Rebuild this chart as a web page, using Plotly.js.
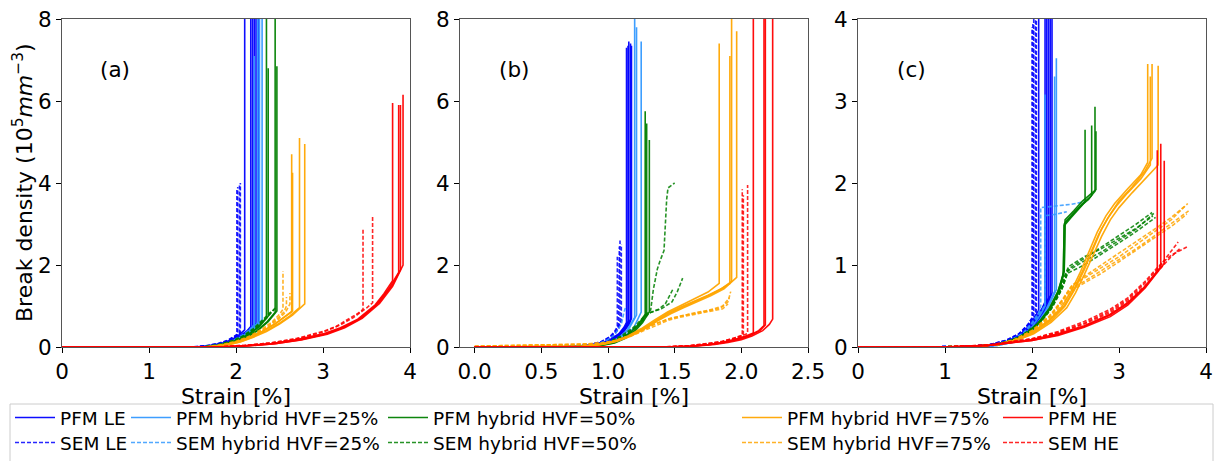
<!DOCTYPE html>
<html><head><meta charset="utf-8">
<script src="https://cdn.plot.ly/plotly-3.0.1.min.js"></script>
<style>html,body{margin:0;padding:0;background:#fff}#chart{width:1224px;height:461px}</style>
</head><body><div id="chart"></div>
<script>
// ---------------- DATA: curves as [strain %, break density 1e5/mm^3] ----------------
// Panel (a)
const a_pfm_le = [
 [[0,0],[1.5,0],[1.65,0.02],[1.8,0.07],[1.9,0.13],[2.0,0.24],[2.05,0.32],[2.1,0.42],[2.1,8.3]],
 [[0,0],[1.55,0],[1.7,0.03],[1.85,0.09],[1.95,0.17],[2.05,0.28],[2.12,0.38],[2.17,0.5],[2.17,8.3]],
 [[0,0],[1.55,0],[1.7,0.02],[1.85,0.08],[1.95,0.15],[2.05,0.26],[2.14,0.4],[2.19,0.52],[2.19,8.3]],
 [[0,0],[1.6,0],[1.75,0.03],[1.9,0.1],[2.0,0.19],[2.1,0.32],[2.17,0.45],[2.21,0.55],[2.21,8.3]],
 [[0,0],[1.6,0],[1.75,0.03],[1.9,0.1],[2.0,0.18],[2.1,0.3],[2.18,0.45],[2.23,0.58],[2.23,8.3]],
 [[0,0],[1.6,0],[1.78,0.03],[1.92,0.1],[2.02,0.19],[2.12,0.32],[2.2,0.47],[2.26,0.62],[2.26,8.3]]
];
const a_sem_le = [
 [[0,0],[1.5,0],[1.65,0.03],[1.8,0.09],[1.9,0.16],[1.97,0.24],[2.01,0.3],[2.01,3.85]],
 [[0,0],[1.5,0],[1.66,0.03],[1.8,0.08],[1.9,0.15],[1.98,0.24],[2.02,0.32],[2.02,3.9]],
 [[0,0],[1.55,0],[1.68,0.03],[1.82,0.09],[1.92,0.17],[2.0,0.27],[2.04,0.34],[2.04,3.95]],
 [[0,0],[1.55,0],[1.7,0.03],[1.84,0.09],[1.94,0.17],[2.01,0.27],[2.05,0.35],[2.05,4.0]]
];
const a_pfm_25 = [
 [[0,0],[1.6,0],[1.78,0.04],[1.92,0.11],[2.02,0.2],[2.12,0.33],[2.21,0.55],[2.21,7.1]],
 [[0,0],[1.6,0],[1.78,0.03],[1.92,0.1],[2.05,0.22],[2.15,0.36],[2.25,0.6],[2.25,8.3]],
 [[0,0],[1.62,0],[1.8,0.03],[1.94,0.1],[2.06,0.22],[2.17,0.38],[2.27,0.62],[2.27,8.3]],
 [[0,0],[1.65,0],[1.82,0.03],[1.96,0.1],[2.08,0.22],[2.2,0.4],[2.3,0.66],[2.3,8.3]]
];
const a_sem_25 = [
 [[0,0],[1.6,0],[1.78,0.04],[1.92,0.12],[2.02,0.22],[2.12,0.36],[2.2,0.5]]
];
const a_pfm_50 = [
 [[0,0],[1.65,0],[1.8,0.04],[1.95,0.12],[2.05,0.2],[2.15,0.32],[2.25,0.48],[2.35,0.72],[2.35,8.3]],
 [[0,0],[1.65,0],[1.82,0.04],[1.96,0.12],[2.06,0.2],[2.16,0.32],[2.27,0.5],[2.37,0.75],[2.37,6.8]],
 [[0,0],[1.68,0],[1.85,0.04],[2.0,0.13],[2.12,0.24],[2.24,0.4],[2.35,0.6],[2.45,0.85],[2.45,8.3]],
 [[0,0],[1.7,0],[1.86,0.04],[2.01,0.13],[2.13,0.24],[2.25,0.4],[2.37,0.62],[2.47,0.88],[2.47,6.85]]
];
const a_sem_50 = [
 [[0,0],[1.6,0],[1.8,0.06],[1.95,0.15],[2.08,0.27],[2.2,0.45],[2.3,0.65],[2.4,0.86]],
 [[0,0],[1.62,0],[1.82,0.06],[1.98,0.16],[2.1,0.28],[2.22,0.46],[2.33,0.68],[2.44,0.92]],
 [[0,0],[1.65,0],[1.85,0.07],[2.0,0.17],[2.12,0.3],[2.24,0.48],[2.35,0.7],[2.45,0.95]]
];
const a_pfm_75 = [
 [[0,0],[1.65,0],[1.85,0.05],[2.0,0.12],[2.15,0.23],[2.3,0.38],[2.45,0.57],[2.55,0.72],[2.64,0.86],[2.64,4.7]],
 [[0,0],[1.65,0],[1.85,0.05],[2.0,0.12],[2.15,0.23],[2.3,0.38],[2.45,0.56],[2.56,0.73],[2.65,0.88],[2.65,4.25]],
 [[0,0],[1.7,0],[1.9,0.05],[2.05,0.13],[2.2,0.25],[2.35,0.4],[2.5,0.58],[2.62,0.76],[2.73,0.96],[2.73,5.1]],
 [[0,0],[1.7,0],[1.9,0.05],[2.05,0.12],[2.2,0.24],[2.35,0.38],[2.5,0.56],[2.65,0.78],[2.79,1.05],[2.79,4.95]]
];
const a_sem_75 = [
 [[0,0],[1.65,0],[1.85,0.06],[2.0,0.14],[2.15,0.26],[2.3,0.44],[2.42,0.62],[2.5,0.8],[2.54,0.92],[2.54,1.85]],
 [[0,0],[1.7,0],[1.9,0.06],[2.05,0.15],[2.2,0.29],[2.35,0.48],[2.47,0.68],[2.55,0.85],[2.58,1.0],[2.58,1.22]],
 [[0,0],[1.7,0],[1.9,0.06],[2.05,0.15],[2.2,0.28],[2.35,0.46],[2.48,0.66],[2.57,0.85],[2.62,1.05],[2.62,1.32]]
];
const a_pfm_he = [
 [[0,0],[1.8,0],[2.1,0.03],[2.4,0.08],[2.7,0.18],[3.0,0.32],[3.2,0.47],[3.4,0.68],[3.6,1.03],[3.7,1.3],[3.8,1.62],[3.8,5.95]],
 [[0,0],[1.8,0],[2.1,0.03],[2.4,0.08],[2.7,0.17],[3.0,0.3],[3.2,0.45],[3.4,0.66],[3.6,1.0],[3.75,1.4],[3.87,1.82],[3.87,5.9]],
 [[0,0],[1.85,0],[2.15,0.03],[2.45,0.08],[2.75,0.18],[3.05,0.33],[3.25,0.49],[3.45,0.72],[3.65,1.1],[3.8,1.52],[3.89,1.88],[3.89,5.9]],
 [[0,0],[1.85,0],[2.15,0.03],[2.45,0.08],[2.75,0.17],[3.05,0.31],[3.25,0.47],[3.45,0.7],[3.65,1.06],[3.8,1.48],[3.92,2.0],[3.92,6.15]]
];
const a_sem_he = [
 [[0,0],[1.8,0],[2.1,0.04],[2.4,0.1],[2.7,0.21],[3.0,0.38],[3.15,0.5],[3.3,0.68],[3.4,0.82],[3.46,0.92],[3.46,2.9]],
 [[0,0],[1.8,0],[2.1,0.04],[2.4,0.1],[2.7,0.2],[3.0,0.36],[3.2,0.54],[3.35,0.72],[3.5,0.95],[3.57,1.08],[3.57,3.2]]
];
// Panel (b)
const b_pfm_le = [
 [[0,0],[0.7,0.01],[0.85,0.04],[0.95,0.1],[1.02,0.19],[1.08,0.32],[1.12,0.48],[1.139,0.6],[1.139,7.3]],
 [[0,0],[0.7,0.01],[0.86,0.04],[0.96,0.1],[1.03,0.19],[1.09,0.33],[1.13,0.5],[1.15,0.62],[1.15,7.35]],
 [[0,0],[0.72,0.01],[0.87,0.04],[0.97,0.1],[1.04,0.2],[1.1,0.35],[1.14,0.52],[1.156,0.64],[1.156,7.45]],
 [[0,0],[0.72,0.01],[0.88,0.04],[0.98,0.1],[1.05,0.2],[1.11,0.36],[1.15,0.54],[1.169,0.68],[1.169,7.4]],
 [[0,0],[0.74,0.01],[0.89,0.04],[0.99,0.11],[1.06,0.21],[1.12,0.38],[1.16,0.56],[1.176,0.7],[1.176,7.35]]
];
const b_sem_le = [
 [[0,0],[0.7,0.01],[0.85,0.05],[0.95,0.13],[1.01,0.24],[1.05,0.38],[1.07,0.5],[1.07,2.2]],
 [[0,0],[0.7,0.01],[0.85,0.05],[0.95,0.13],[1.02,0.25],[1.06,0.4],[1.08,0.55],[1.08,2.35],[1.085,2.45]],
 [[0,0],[0.72,0.01],[0.87,0.05],[0.97,0.14],[1.03,0.26],[1.07,0.42],[1.09,0.6],[1.09,2.6]],
 [[0,0],[0.72,0.01],[0.87,0.05],[0.97,0.13],[1.04,0.27],[1.08,0.45],[1.1,0.65],[1.1,2.5]]
];
const b_pfm_25 = [
 [[0,0],[0.75,0.01],[0.9,0.04],[1.0,0.1],[1.08,0.22],[1.14,0.4],[1.2,0.72],[1.2,8.3]],
 [[0,0],[0.76,0.01],[0.91,0.04],[1.01,0.1],[1.09,0.22],[1.15,0.4],[1.214,0.78],[1.214,7.8]],
 [[0,0],[0.78,0.01],[0.93,0.04],[1.04,0.11],[1.12,0.24],[1.19,0.45],[1.249,0.85],[1.249,7.45]]
];
const b_sem_25 = [
 [[0,0],[0.72,0.01],[0.88,0.05],[0.98,0.14],[1.05,0.3],[1.1,0.55],[1.12,0.85],[1.13,0.95]]
];
const b_pfm_50 = [
 [[0,0],[0.78,0.01],[0.92,0.04],[1.02,0.1],[1.1,0.2],[1.17,0.36],[1.23,0.56],[1.279,0.8],[1.279,5.75]],
 [[0,0],[0.8,0.01],[0.94,0.04],[1.04,0.1],[1.12,0.21],[1.19,0.38],[1.25,0.6],[1.29,0.82],[1.29,5.45]],
 [[0,0],[0.8,0.01],[0.95,0.04],[1.05,0.1],[1.13,0.21],[1.2,0.38],[1.26,0.6],[1.31,0.86],[1.31,5.05]]
];
const b_sem_50 = [
 [[0,0],[0.75,0.01],[0.9,0.05],[1.0,0.12],[1.1,0.27],[1.2,0.5],[1.28,0.78],[1.32,0.9],[1.34,1.4],[1.37,1.9],[1.39,2.1],[1.42,2.35],[1.44,3.6],[1.45,3.88],[1.5,4.0]],
 [[0,0],[0.78,0.01],[0.92,0.05],[1.02,0.12],[1.12,0.28],[1.22,0.52],[1.3,0.82],[1.38,0.92],[1.43,1.05],[1.46,1.25],[1.49,1.43]],
 [[0,0],[0.78,0.01],[0.92,0.05],[1.02,0.12],[1.12,0.27],[1.22,0.5],[1.31,0.83],[1.4,0.93],[1.48,1.1],[1.52,1.35],[1.56,1.68]]
];
const b_pfm_75 = [
 [[0,0],[0.8,0.02],[0.95,0.07],[1.05,0.14],[1.15,0.27],[1.25,0.45],[1.35,0.66],[1.45,0.86],[1.55,1.02],[1.65,1.18],[1.75,1.34],[1.834,1.55],[1.834,7.4]],
 [[0,0],[0.8,0.02],[0.95,0.07],[1.05,0.14],[1.15,0.26],[1.25,0.43],[1.35,0.63],[1.45,0.83],[1.55,0.98],[1.65,1.12],[1.75,1.26],[1.85,1.42],[1.914,1.55],[1.914,7.1]],
 [[0,0],[0.82,0.02],[0.96,0.07],[1.06,0.14],[1.16,0.26],[1.26,0.43],[1.36,0.63],[1.46,0.82],[1.56,0.97],[1.66,1.11],[1.76,1.26],[1.86,1.44],[1.927,1.6],[1.927,8.3]],
 [[0,0],[0.82,0.02],[0.97,0.07],[1.07,0.14],[1.17,0.26],[1.27,0.43],[1.37,0.63],[1.47,0.81],[1.57,0.96],[1.67,1.1],[1.77,1.25],[1.87,1.42],[1.965,1.7],[1.965,7.7]]
];
const b_sem_75 = [
 [[0,0.02],[0.4,0.04],[0.8,0.07],[0.95,0.1],[1.05,0.16],[1.15,0.26],[1.25,0.4],[1.35,0.56],[1.45,0.68],[1.55,0.76],[1.65,0.82],[1.75,0.88],[1.85,0.96],[1.9,1.1],[1.92,1.35]],
 [[0,0.02],[0.4,0.04],[0.8,0.07],[0.96,0.1],[1.06,0.16],[1.16,0.26],[1.26,0.41],[1.36,0.57],[1.46,0.69],[1.56,0.77],[1.66,0.84],[1.76,0.9],[1.86,1.0],[1.91,1.2]],
 [[0,0.01],[0.4,0.03],[0.8,0.06],[0.96,0.09],[1.06,0.15],[1.16,0.25],[1.26,0.39],[1.36,0.54],[1.46,0.66],[1.56,0.74],[1.66,0.8],[1.76,0.86],[1.86,0.93],[1.9,1.05]]
];
const b_pfm_he = [
 [[0,0],[1.4,0],[1.6,0.02],[1.75,0.06],[1.85,0.11],[1.95,0.18],[2.03,0.26],[2.09,0.34],[2.09,8.3]],
 [[0,0],[1.42,0],[1.62,0.02],[1.77,0.06],[1.87,0.11],[1.97,0.19],[2.06,0.28],[2.13,0.4],[2.17,0.52],[2.17,8.3]],
 [[0,0],[1.42,0],[1.62,0.02],[1.77,0.06],[1.87,0.11],[1.97,0.18],[2.06,0.27],[2.14,0.4],[2.18,0.54],[2.18,8.3]],
 [[0,0],[1.45,0],[1.65,0.02],[1.8,0.06],[1.9,0.11],[2.0,0.18],[2.08,0.27],[2.16,0.4],[2.21,0.55],[2.235,0.68],[2.235,8.3]]
];
const b_sem_he = [
 [[0,0],[1.4,0],[1.6,0.03],[1.75,0.08],[1.85,0.13],[1.93,0.2],[2.007,0.28],[2.007,3.85]],
 [[0,0],[1.4,0],[1.6,0.03],[1.75,0.08],[1.86,0.14],[1.94,0.21],[2.015,0.3],[2.015,3.7]],
 [[0,0],[1.42,0],[1.62,0.03],[1.77,0.08],[1.88,0.14],[1.97,0.22],[2.047,0.33],[2.047,3.95]]
];
// Panel (c)
const c_pfm_le = [
 [[0,0],[1.2,0.005],[1.5,0.02],[1.7,0.06],[1.85,0.14],[1.95,0.24],[2.03,0.36],[2.077,0.45],[2.077,4.2]],
 [[0,0],[1.2,0.005],[1.5,0.02],[1.7,0.06],[1.85,0.13],[1.95,0.22],[2.05,0.36],[2.12,0.48],[2.15,0.55],[2.15,4.2]],
 [[0,0],[1.2,0.005],[1.5,0.02],[1.72,0.06],[1.87,0.13],[1.97,0.23],[2.07,0.37],[2.14,0.5],[2.17,0.57],[2.17,4.2]],
 [[0,0],[1.25,0.005],[1.55,0.02],[1.75,0.06],[1.9,0.14],[2.0,0.24],[2.1,0.39],[2.16,0.52],[2.19,0.6],[2.19,4.2]],
 [[0,0],[1.25,0.005],[1.55,0.02],[1.75,0.06],[1.9,0.13],[2.0,0.23],[2.1,0.38],[2.17,0.52],[2.21,0.63],[2.21,4.2]],
 [[0,0],[1.25,0.005],[1.55,0.02],[1.77,0.06],[1.92,0.14],[2.02,0.24],[2.12,0.39],[2.19,0.54],[2.23,0.66],[2.23,4.2]]
];
const c_sem_le = [
 [[0,0],[1.2,0.005],[1.5,0.025],[1.7,0.08],[1.85,0.16],[1.95,0.27],[2.0,0.35],[2.0,3.9]],
 [[0,0],[1.2,0.005],[1.5,0.025],[1.7,0.08],[1.85,0.16],[1.95,0.27],[2.01,0.37],[2.01,3.95]],
 [[0,0],[1.2,0.005],[1.5,0.025],[1.72,0.08],[1.87,0.17],[1.97,0.28],[2.02,0.37],[2.02,4.2]],
 [[0,0],[1.22,0.005],[1.52,0.025],[1.72,0.08],[1.87,0.16],[1.97,0.27],[2.04,0.38],[2.04,4.2]],
 [[0,0],[1.22,0.005],[1.52,0.025],[1.74,0.08],[1.89,0.17],[1.99,0.28],[2.05,0.39],[2.05,4.2]]
];
const c_pfm_25 = [
 [[0,0],[1.25,0.005],[1.55,0.02],[1.75,0.06],[1.9,0.14],[2.0,0.24],[2.1,0.4],[2.15,0.5],[2.15,3.08]],
 [[0,0],[1.3,0.005],[1.6,0.02],[1.8,0.06],[1.95,0.15],[2.05,0.27],[2.15,0.43],[2.22,0.58],[2.26,0.68],[2.26,3.3]],
 [[0,0],[1.3,0.005],[1.6,0.02],[1.8,0.06],[1.96,0.15],[2.07,0.27],[2.17,0.44],[2.24,0.6],[2.28,0.7],[2.28,3.52]]
];
const c_sem_25 = [
 [[0,0],[1.25,0.005],[1.55,0.025],[1.75,0.08],[1.9,0.17],[2.0,0.3],[2.08,0.42],[2.1,0.5],[2.1,1.7],[2.3,1.72],[2.45,1.74],[2.6,1.77]],
 [[0,0],[1.25,0.005],[1.55,0.025],[1.76,0.08],[1.92,0.18],[2.03,0.32],[2.12,0.46],[2.15,0.52],[2.15,1.6],[2.28,1.62],[2.4,1.65]]
];
const c_pfm_50 = [
 [[0,0],[1.3,0.005],[1.6,0.03],[1.8,0.09],[1.95,0.18],[2.08,0.3],[2.2,0.47],[2.3,0.68],[2.36,0.88],[2.37,1.48],[2.45,1.58],[2.55,1.7],[2.61,1.77],[2.61,2.65]],
 [[0,0],[1.3,0.005],[1.6,0.03],[1.8,0.09],[1.95,0.18],[2.08,0.3],[2.2,0.47],[2.3,0.68],[2.36,0.9],[2.37,1.5],[2.47,1.62],[2.57,1.73],[2.65,1.8],[2.686,1.85],[2.686,2.7]],
 [[0,0],[1.3,0.005],[1.62,0.03],[1.82,0.09],[1.97,0.18],[2.1,0.31],[2.22,0.49],[2.32,0.72],[2.37,0.92],[2.38,1.52],[2.48,1.63],[2.58,1.75],[2.67,1.83],[2.724,1.9],[2.724,2.93]],
 [[0,0],[1.3,0.005],[1.62,0.03],[1.82,0.09],[1.97,0.18],[2.1,0.31],[2.22,0.48],[2.32,0.7],[2.37,0.95],[2.38,1.55],[2.48,1.66],[2.58,1.78],[2.67,1.86],[2.735,1.92],[2.735,2.63]]
];
const c_sem_50 = [
 [[0,0],[1.3,0.005],[1.6,0.03],[1.85,0.12],[2.05,0.27],[2.2,0.45],[2.32,0.68],[2.38,0.88],[2.42,0.98],[2.6,1.1],[2.8,1.2],[3.0,1.32],[3.2,1.45],[3.39,1.6]],
 [[0,0],[1.3,0.005],[1.6,0.03],[1.86,0.12],[2.06,0.27],[2.21,0.46],[2.33,0.7],[2.4,0.92],[2.6,1.05],[2.8,1.16],[3.0,1.3],[3.2,1.44],[3.4,1.63]],
 [[0,0],[1.32,0.005],[1.62,0.03],[1.87,0.12],[2.07,0.27],[2.22,0.46],[2.34,0.7],[2.41,0.9],[2.6,1.0],[2.8,1.13],[3.0,1.27],[3.2,1.41],[3.42,1.58]],
 [[0,0],[1.32,0.005],[1.62,0.03],[1.88,0.13],[2.08,0.28],[2.23,0.48],[2.35,0.72],[2.42,0.95],[2.6,1.08],[2.8,1.22],[3.0,1.36],[3.2,1.5],[3.38,1.64]]
];
const c_pfm_75 = [
 [[0,0],[1.3,0.005],[1.6,0.03],[1.8,0.08],[2.0,0.18],[2.2,0.33],[2.35,0.5],[2.45,0.68],[2.55,0.9],[2.65,1.15],[2.75,1.4],[2.85,1.6],[2.95,1.75],[3.1,1.93],[3.25,2.1],[3.33,2.25],[3.33,3.45]],
 [[0,0],[1.3,0.005],[1.6,0.03],[1.8,0.08],[2.0,0.17],[2.2,0.32],[2.37,0.5],[2.47,0.68],[2.57,0.9],[2.67,1.14],[2.77,1.38],[2.87,1.57],[2.97,1.72],[3.1,1.88],[3.25,2.05],[3.36,2.22],[3.36,3.3]],
 [[0,0],[1.32,0.005],[1.62,0.03],[1.82,0.08],[2.02,0.17],[2.22,0.32],[2.38,0.5],[2.49,0.7],[2.6,0.94],[2.7,1.2],[2.8,1.44],[2.9,1.62],[3.0,1.78],[3.15,1.95],[3.3,2.15],[3.38,2.3],[3.38,3.45]],
 [[0,0],[1.32,0.005],[1.62,0.03],[1.82,0.08],[2.02,0.16],[2.22,0.3],[2.4,0.48],[2.5,0.66],[2.6,0.88],[2.7,1.12],[2.8,1.35],[2.9,1.55],[3.0,1.7],[3.15,1.88],[3.3,2.05],[3.45,2.22],[3.45,3.43]]
];
const c_sem_75 = [
 [[0,0],[1.3,0.005],[1.6,0.03],[1.8,0.09],[2.0,0.2],[2.2,0.38],[2.35,0.58],[2.45,0.74],[2.6,0.84],[2.8,0.97],[3.0,1.1],[3.2,1.25],[3.4,1.4],[3.6,1.55],[3.79,1.75]],
 [[0,0],[1.3,0.005],[1.6,0.03],[1.8,0.09],[2.0,0.2],[2.2,0.37],[2.36,0.58],[2.46,0.72],[2.6,0.8],[2.8,0.93],[3.0,1.06],[3.2,1.2],[3.4,1.35],[3.6,1.5],[3.8,1.66]],
 [[0,0],[1.32,0.005],[1.62,0.03],[1.82,0.09],[2.02,0.2],[2.22,0.38],[2.37,0.6],[2.47,0.76],[2.6,0.86],[2.8,1.0],[3.0,1.14],[3.2,1.28],[3.4,1.43],[3.6,1.58],[3.76,1.72]],
 [[0,0],[1.32,0.005],[1.62,0.03],[1.82,0.09],[2.02,0.19],[2.22,0.36],[2.37,0.56],[2.47,0.7],[2.6,0.78],[2.8,0.9],[3.0,1.04],[3.2,1.18],[3.4,1.32],[3.6,1.47],[3.78,1.62]]
];
const c_pfm_he = [
 [[0,0],[1.0,0],[1.5,0.02],[2.0,0.09],[2.3,0.16],[2.6,0.26],[2.9,0.4],[3.1,0.54],[3.3,0.73],[3.44,0.92],[3.44,2.4]],
 [[0,0],[1.0,0],[1.5,0.02],[2.0,0.08],[2.3,0.15],[2.6,0.25],[2.9,0.39],[3.1,0.53],[3.3,0.74],[3.48,0.98],[3.48,2.48]],
 [[0,0],[1.0,0],[1.5,0.02],[2.0,0.08],[2.3,0.14],[2.6,0.24],[2.9,0.37],[3.1,0.51],[3.3,0.72],[3.52,1.02],[3.52,2.27]]
];
const c_sem_he = [
 [[0,0],[1.0,0],[1.5,0.025],[2.0,0.1],[2.3,0.18],[2.6,0.29],[2.9,0.44],[3.1,0.58],[3.3,0.78],[3.45,0.96],[3.55,1.1],[3.68,1.28]],
 [[0,0],[1.0,0],[1.5,0.025],[2.0,0.1],[2.3,0.19],[2.6,0.31],[2.9,0.46],[3.1,0.6],[3.3,0.8],[3.45,0.98],[3.6,1.12],[3.78,1.22]],
 [[0,0],[1.0,0],[1.5,0.02],[2.0,0.09],[2.3,0.17],[2.6,0.28],[2.9,0.42],[3.1,0.56],[3.3,0.75],[3.45,0.93],[3.58,1.08],[3.7,1.2]]
];

const seriesNames = ["PFM LE","SEM LE","PFM hybrid HVF=25%","SEM hybrid HVF=25%","PFM hybrid HVF=50%","SEM hybrid HVF=50%","PFM hybrid HVF=75%","SEM hybrid HVF=75%","PFM HE","SEM HE"];
const seriesColors = ["#0000ff","#0000ff","#3399ff","#3399ff","#008000","#008000","#ffa500","#ffa500","#ff0000","#ff0000"];
const panelLabels = ["(a)","(b)","(c)"];
const yTitle = "Break density (10<sup>5</sup><i>mm</i><sup>−3</sup>)";
const xTitle = "Strain [%]";

// ---------------- BUILD ----------------
const panels = [
  [a_pfm_le,a_sem_le,a_pfm_25,a_sem_25,a_pfm_50,a_sem_50,a_pfm_75,a_sem_75,a_pfm_he,a_sem_he],
  [b_pfm_le,b_sem_le,b_pfm_25,b_sem_25,b_pfm_50,b_sem_50,b_pfm_75,b_sem_75,b_pfm_he,b_sem_he],
  [c_pfm_le,c_sem_le,c_pfm_25,c_sem_25,c_pfm_50,c_sem_50,c_pfm_75,c_sem_75,c_pfm_he,c_sem_he]
];
const legendIds = seriesNames.map((n, s) => s === 0 ? "legend" : "legend" + (s + 1));
const traces = [];
panels.forEach((series, p) => {
  const ax = p === 0 ? "" : String(p + 1);
  series.forEach((curves, s) => {
    const sem = s % 2 === 1;
    curves.forEach((c, i) => {
      traces.push({
        type: "scatter", mode: "lines",
        x: c.map(q => q[0]), y: c.map(q => q[1]),
        xaxis: "x" + ax, yaxis: "y" + ax,
        name: seriesNames[s], legend: legendIds[s],
        showlegend: p === 0 && i === 0,
        opacity: sem ? 0.85 : 0.95,
        line: {color: seriesColors[s], width: 1.6, dash: sem ? "4px,2px" : "solid"},
        hoverinfo: "skip"
      });
    });
  });
});

const W = 1224, H = 461;
const px = v => v / W, py = v => 1 - v / H;
const font = "DejaVu Sans, Arial, sans-serif";
function xa(dom, range, tickvals, ticktext, anchor) {
  return {domain: dom, range: range, tickvals: tickvals, ticktext: ticktext, anchor: anchor,
    showline: true, mirror: true, linecolor: "#555", linewidth: 1,
    ticks: "outside", ticklen: 5, tickcolor: "#000", showgrid: false, zeroline: false,
    tickfont: {size: 21.5, color: "#000"}, automargin: false,
    title: {text: xTitle, font: {size: 22, color: "#000"}, standoff: 0}};
}
function ya(dom, range, tickvals, anchor) {
  return {domain: dom, range: range, tickvals: tickvals, anchor: anchor,
    showline: true, mirror: true, linecolor: "#555", linewidth: 1,
    ticks: "outside", ticklen: 5, tickcolor: "#000", showgrid: false, zeroline: false,
    tickfont: {size: 21.5, color: "#000"}, automargin: false};
}
const yd = [py(347), py(19)];
// legend columns: left px of each column, rows: center px
const legCols = [10, 126, 383, 737, 998];
const legRows = [418, 443];
const layout = {
  width: W, height: H, margin: {l: 0, r: 0, t: 0, b: 0, autoexpand: false},
  paper_bgcolor: "#fff", plot_bgcolor: "#fff",
  font: {family: font, color: "#000"},
  xaxis: xa([px(62), px(410)], [0, 4], [0,1,2,3,4], ["0","1","2","3","4"], "y"),
  yaxis: ya(yd, [0, 8], [0,2,4,6,8], "x"),
  xaxis2: xa([px(460), px(808)], [-0.11, 2.5], [0,0.5,1,1.5,2,2.5], ["0.0","0.5","1.0","1.5","2.0","2.5"], "y2"),
  yaxis2: ya(yd, [0, 8], [0,2,4,6,8], "x2"),
  xaxis3: xa([px(858), px(1206)], [0, 4], [0,1,2,3,4], ["0","1","2","3","4"], "y3"),
  yaxis3: ya(yd, [0, 4], [0,1,2,3,4], "x3"),
  shapes: [{type: "rect", xref: "paper", yref: "paper", x0: px(10), x1: px(1213), y0: py(470), y1: py(404),
    line: {color: "#cccccc", width: 1}, fillcolor: "rgba(255,255,255,0.8)", layer: "below"}],
  annotations: panelLabels.map((t, i) => ({text: t, xref: "paper", yref: "paper",
    x: px([115, 514, 911][i]), y: py(69), xanchor: "center", yanchor: "middle", showarrow: false,
    font: {size: 21.5, color: "#000"}})).concat([{
    text: yTitle, xref: "paper", yref: "paper", x: px(23), y: py(183), textangle: -90,
    xanchor: "center", yanchor: "middle", showarrow: false, font: {size: 22, color: "#000"}}])
};
legendIds.forEach((id, s) => {
  layout[id] = {x: px(legCols[Math.floor(s / 2)]), y: py(legRows[s % 2]), xref: "container", yref: "container",
    xanchor: "left", yanchor: "middle", bgcolor: "rgba(0,0,0,0)", borderwidth: 0,
    font: {size: 18.5, color: "#000", family: font}, itemwidth: 40, tracegroupgap: 0};
});
Plotly.newPlot("chart", traces, layout, {displayModeBar: false, staticPlot: true});
</script></body></html>
